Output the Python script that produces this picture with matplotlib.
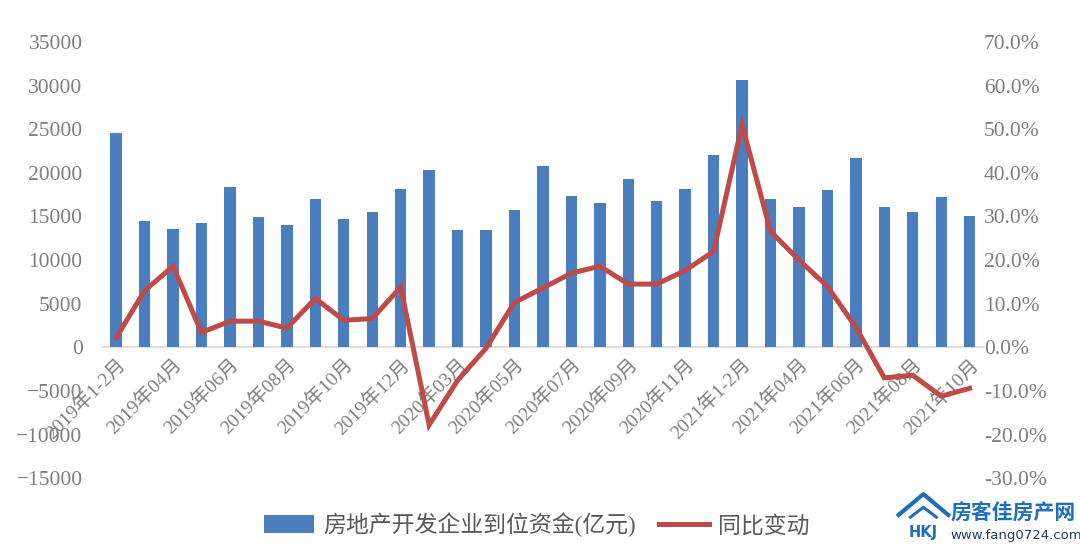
import matplotlib
matplotlib.use("Agg")
import matplotlib.pyplot as plt
from matplotlib.ticker import FuncFormatter, MultipleLocator
from matplotlib.lines import Line2D
import numpy as np

plt.rcParams['font.family'] = ['Liberation Serif', 'Noto Sans CJK SC', 'DejaVu Sans']

categories = [
    "2019年1-2月", "2019年03月", "2019年04月", "2019年05月", "2019年06月", "2019年07月",
    "2019年08月", "2019年09月", "2019年10月", "2019年11月", "2019年12月",
    "2020年1-2月", "2020年03月", "2020年04月", "2020年05月", "2020年06月", "2020年07月",
    "2020年08月", "2020年09月", "2020年10月", "2020年11月", "2020年12月",
    "2021年1-2月", "2021年03月", "2021年04月", "2021年05月", "2021年06月", "2021年07月",
    "2021年08月", "2021年09月", "2021年10月",
]
funds = [24600, 14500, 13600, 14300, 18400, 14900, 14000, 17000, 14700, 15500, 18200,
         20300, 13400, 13500, 15700, 20800, 17400, 16500, 19300, 16800, 18200, 22100,
         30700, 17000, 16100, 18000, 21700, 16100, 15500, 17200, 15100]
yoy = [2.2, 13.0, 18.6, 3.4, 6.0, 6.0, 4.4, 11.2, 6.2, 6.6, 13.8,
       -17.8, -7.6, -0.2, 10.3, 13.6, 17.0, 18.6, 14.5, 14.5, 17.6, 22.0,
       51.0, 26.6, 20.0, 14.0, 4.6, -7.0, -6.4, -11.2, -9.4]
legend_labels = ["房地产开发企业到位资金(亿元)", "同比变动"]

bar_color = "#4A7EBF"
line_color = "#BE4B48"
txt_gray = "#7F7F7F"

fig = plt.figure(figsize=(10.8, 5.49), dpi=100)
ax = fig.add_axes([0.0944, 0.129, 0.8166, 0.7945])
ax2 = ax.twinx()

x = np.arange(len(categories))
b = ax.bar(x, funds, width=0.4, color=bar_color, zorder=2)
l, = ax2.plot(x, yoy, color=line_color, lw=3.6, solid_joinstyle='miter', zorder=3)

ax.set_xlim(-0.5, len(categories) - 0.5)
ax.set_ylim(-15000, 35000)
ax.yaxis.set_major_locator(MultipleLocator(5000))
ax2.set_ylim(-30, 70)
ax2.yaxis.set_major_locator(MultipleLocator(10))
ax2.yaxis.set_major_formatter(FuncFormatter(lambda v, p: f"{v:.1f}%"))

for a in (ax, ax2):
    for s in ("top", "left", "right", "bottom"):
        a.spines[s].set_visible(False)
ax.tick_params(axis='y', length=0, labelsize=15.5, colors=txt_gray, pad=14)
ax2.tick_params(axis='y', length=0, labelsize=15.5, colors=txt_gray, pad=0)

ax.spines['bottom'].set_visible(True)
ax.spines['bottom'].set_position(('data', 0))
ax.spines['bottom'].set_color('#D9D9D9')
ax.spines['bottom'].set_linewidth(1.2)
ax.spines['bottom'].set_zorder(1)

ax.set_xticks(x[::2])
ax.set_xticklabels(categories[::2], rotation=45, ha='right', rotation_mode='anchor')
ax.tick_params(axis='x', length=0, labelsize=14, colors=txt_gray, pad=6)

ax.set_zorder(ax2.get_zorder() - 1)
ax.patch.set_visible(False)
ax2.patch.set_visible(False)

leg = fig.legend([b, l], legend_labels, loc='center', bbox_to_anchor=(0.497, 0.044),
                 ncol=2, frameon=False, fontsize=16.5, handlelength=2.2,
                 handleheight=0.8, columnspacing=1.0, handletextpad=0.4)
for t in leg.get_texts():
    t.set_color("#595959")

# watermark
wm = "#1E6EC0"
fig.add_artist(Line2D([0.832, 0.855, 0.878], [0.062, 0.100, 0.062], color=wm, lw=3,
                      transform=fig.transFigure))
fig.add_artist(Line2D([0.843, 0.855, 0.867], [0.058, 0.076, 0.058], color=wm, lw=2.2,
                      transform=fig.transFigure))
fig.text(0.855, 0.030, "HKJ", fontsize=10.5, fontweight='bold', color=wm,
         family=['DejaVu Sans'], ha='center', va='center')
fig.text(0.880, 0.066, "房客佳房产网", fontsize=15, fontweight='bold', color=wm,
         family=['Noto Sans CJK SC'], ha='left', va='center')
fig.text(0.880, 0.024, "www.fang0724.com", fontsize=9.5, color="#1E3F66",
         family=['DejaVu Sans'], ha='left', va='center')

fig.savefig("out.png", dpi=100)
